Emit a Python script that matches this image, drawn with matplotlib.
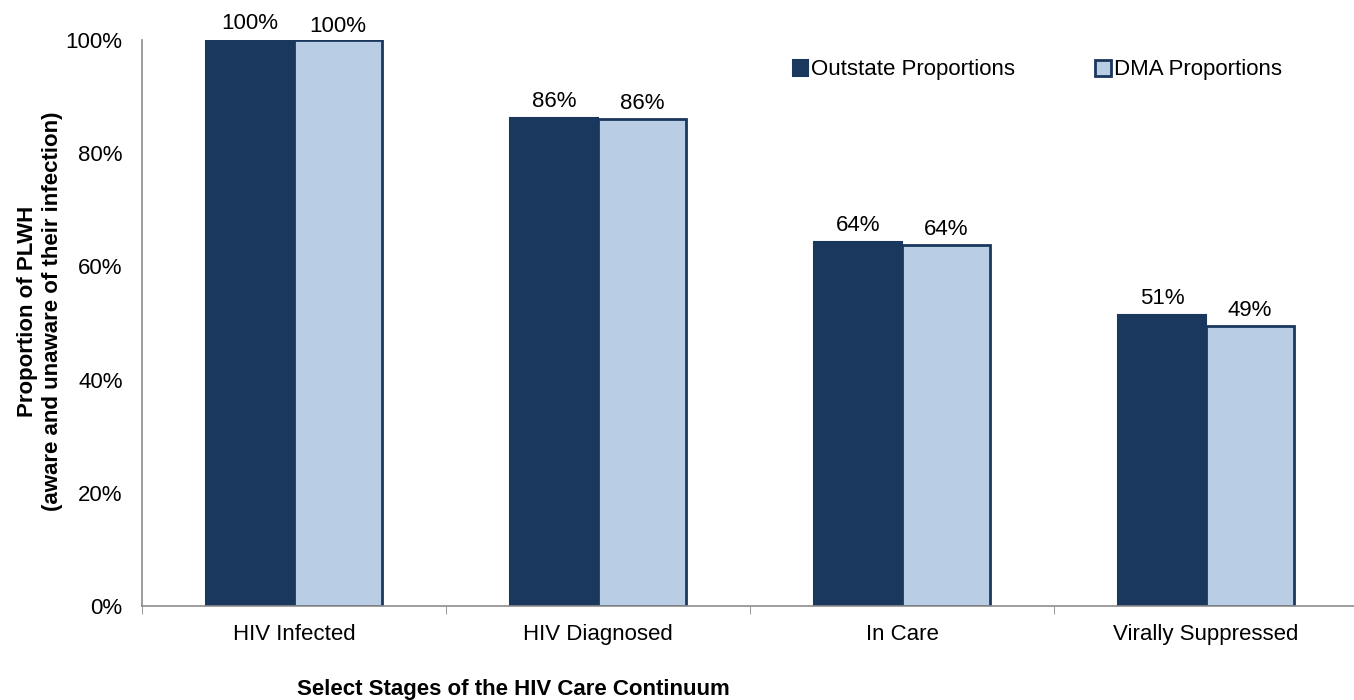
import numpy as np
import matplotlib.pyplot as plt
from matplotlib.patches import Patch

plt.rcParams['font.family'] = ['Liberation Sans', 'DejaVu Sans']

stages = ['HIV Infected', 'HIV Diagnosed', 'In Care', 'Virally Suppressed']
outstate = [100, 86.2, 64.3, 51.5]
dma = [100, 86.0, 63.7, 49.4]
outstate_lbl = ['100%', '86%', '64%', '51%']
dma_lbl = ['100%', '86%', '64%', '49%']

navy = '#1a375e'
light = '#b9cde5'
grey = '#8c8c8c'
fs = 16

fig = plt.figure(figsize=(13.54, 7.0), dpi=100)
ax = fig.add_axes([142/1354, 94/700, 1216/1354, 566/700])

x = np.arange(len(stages))
w = 0.29
ax.bar(x - w/2, outstate, w, color=navy, edgecolor=navy, linewidth=1.5)
ax.bar(x + w/2, dma, w, color=light, edgecolor=navy, linewidth=2)

for i in range(len(stages)):
    ax.text(x[i] - w/2, outstate[i] + 1.0, outstate_lbl[i], ha='center', va='bottom', fontsize=fs)
    # the two 100% labels overlap the top, so the DMA one sits a bit lower
    off = 0.5 if dma[i] >= 100 else 1.0
    ax.text(x[i] + w/2, dma[i] + off, dma_lbl[i], ha='center', va='bottom', fontsize=fs)

ax.set_xlim(-0.5, 3.5)
ax.set_ylim(0, 100)
ax.set_yticks([0, 20, 40, 60, 80, 100])
ax.set_yticklabels(['0%', '20%', '40%', '60%', '80%', '100%'], fontsize=fs)
ax.set_xticks(x)
ax.set_xticklabels(stages, fontsize=fs)
ax.set_xticks(np.arange(-0.5, 4.0, 1.0), minor=True)
ax.tick_params(axis='x', which='major', length=0, pad=13)
ax.tick_params(axis='x', which='minor', length=6, color=grey)
ax.tick_params(axis='y', length=0, pad=14)

for s in ['top', 'right']:
    ax.spines[s].set_visible(False)
for s in ['left', 'bottom']:
    ax.spines[s].set_color(grey)
    ax.spines[s].set_linewidth(1.2)

fig.text(40/1354, 1 - 311/700, 'Proportion of PLWH\n(aware and unaware of their infection)', rotation=90,
         ha='center', va='center', fontsize=fs, fontweight='bold', multialignment='center')
fig.text(513/1354, 1 - 689/700, 'Select Stages of the HIV Care Continuum', ha='center', va='center',
         fontsize=fs, fontweight='bold')

handles = [Patch(facecolor=navy, edgecolor=navy, linewidth=1.5),
           Patch(facecolor=light, edgecolor=navy, linewidth=2)]
ax.legend(handles, ['Outstate Proportions', 'DMA Proportions'], ncol=2, frameon=False, fontsize=fs,
          loc='center left', bbox_to_anchor=((793 - 142)/1216, 1 - 30/566), handlelength=0.68,
          handleheight=0.7, handletextpad=0.15, columnspacing=3.6, borderaxespad=0, borderpad=0)

fig.savefig('out.png', dpi=100)
